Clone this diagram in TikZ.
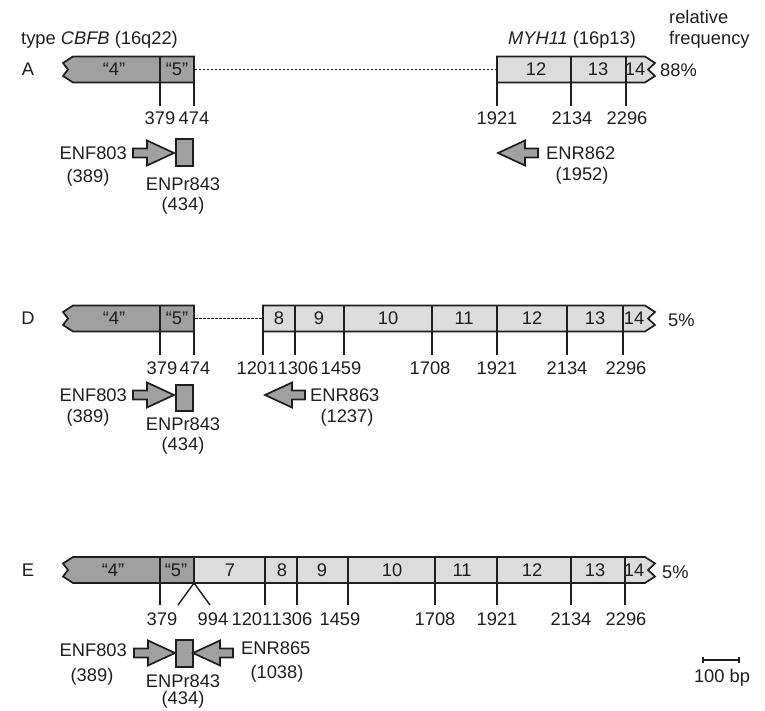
\documentclass[tikz,border=0pt]{standalone}
\usepackage{fontspec}
\setmainfont{Liberation Sans}
\definecolor{darkg}{RGB}{160,160,160}
\definecolor{lightg}{RGB}{220,220,220}
\definecolor{ink}{RGB}{30,30,30}
\tikzset{
  lbl/.style={font=\fontsize{18.3}{21}\selectfont, text=ink, inner sep=0pt},
  genebox/.style={draw=ink, line width=1.7pt, line join=miter},
  tick/.style={draw=ink, line width=1.4pt},
  gap/.style={draw=ink, line width=1.2pt, dash pattern=on 2.5pt off 1.5pt},
  primer/.style={draw=ink, fill=darkg, line width=1.7pt, line join=miter},
  fwdprimer/.pic={\draw[primer] (0,-4.5) -- (14,-4.5) -- (14,-12.5) -- (41,0) -- (14,12.5) -- (14,4.5) -- (0,4.5) -- cycle;},
  revprimer/.pic={\draw[primer] (0,-4.5) -- (-13,-4.5) -- (-13,-12.5) -- (-40,0) -- (-13,12.5) -- (-13,4.5) -- (0,4.5) -- cycle;},
  leftend/.pic={\draw[genebox, fill=darkg] (73,-13) -- (194,-13) -- (194,13) -- (73,13) -- (63,6.5) -- (68,0) -- (63,-6.5) -- cycle;
                \draw[genebox] (160,-13) -- (160,13);},
}
\begin{document}
\begin{tikzpicture}[x=1pt,y=-1pt]
\useasboundingbox (0,0) rectangle (765,711);

% headers
\node[lbl, anchor=west] (hcbfb) at (21,40) {type \textit{CBFB} (16q22)};
\node[lbl] (hmyh) at (572,40) {\textit{MYH11} (16p13)};
\node[lbl, anchor=west] (hrel) at (669,17) {relative};
\node[lbl, anchor=west] (hfreq) at (669,40) {frequency};

% ================= Row A =================
\begin{scope}[shift={(0,69.5)}]
  \node[lbl] (rA) at (28,0) {A};
  \pic {leftend};
  \node[lbl] (aex4) at (114,0) {“4”};
  \node[lbl] (aex5) at (177,0) {“5”};
  \draw[genebox, fill=lightg] (497,-13) -- (645,-13) -- (655,-6.5) -- (648,0) -- (655,6.5) -- (645,13) -- (497,13) -- cycle;
  \foreach \x in {571,626} \draw[genebox] (\x,-13) -- (\x,13);
  \draw[gap, line width=1.8pt, dash pattern=on 2pt off 2pt] (195,0) -- (497,0);
  \node[lbl] (aex12) at (536,0) {12};
  \node[lbl] (aex13) at (598,0) {13};
  \node[lbl] (aex14) at (635,0) {14};
  \node[lbl, anchor=west] (afreq) at (660,1) {88\%};
  \foreach \x in {160,194,497,571,626} \draw[tick] (\x,13) -- (\x,36.5);
  \node[lbl] (a379) at (160,49) {379};
  \node[lbl] (a474) at (194,49) {474};
  \node[lbl] (a1921) at (497,49) {1921};
  \node[lbl] (a2134) at (572,49) {2134};
  \node[lbl] (a2296) at (627,49) {2296};
\end{scope}
\pic at (133,153) {fwdprimer};
\draw[primer] (176,139) rectangle (193,166);
\node[lbl, anchor=east] (aF) at (127,153) {ENF803};
\node[lbl] (aFp) at (88,178) {(389)};
\node[lbl] (aP) at (183,184) {ENPr843};
\node[lbl] (aPp) at (183,206) {(434)};
\pic at (538,153) {revprimer};
\node[lbl, anchor=west] (aR) at (546,153) {ENR862};
\node[lbl] (aRp) at (582,176) {(1952)};

% ================= Row D =================
\begin{scope}[shift={(0,318.5)}]
  \node[lbl] (rD) at (28,0) {D};
  \pic {leftend};
  \node[lbl] (dex4) at (114,0) {“4”};
  \node[lbl] (dex5) at (177,0) {“5”};
  \draw[gap, line width=1pt] (195,0) -- (263,0);
  \draw[genebox, fill=lightg] (263,-13) -- (645,-13) -- (655,-6.5) -- (648,0) -- (655,6.5) -- (645,13) -- (263,13) -- cycle;
  \foreach \x in {295,344,432,497,567,623} \draw[genebox] (\x,-13) -- (\x,13);
  \node[lbl] (dex8) at (279,0) {8};
  \node[lbl] (dex9) at (319,0) {9};
  \node[lbl] (dex10) at (388,0) {10};
  \node[lbl] (dex11) at (464,0) {11};
  \node[lbl] (dex12) at (532,0) {12};
  \node[lbl] (dex13) at (595,0) {13};
  \node[lbl] (dex14) at (634,0) {14};
  \node[lbl, anchor=west] (dfreq) at (668,2) {5\%};
  \foreach \x in {160,194,263,295,344,432,497,567,623} \draw[tick] (\x,13) -- (\x,36);
  \node[lbl] (d379) at (162,49.5) {379};
  \node[lbl] (d474) at (195,49.5) {474};
  \node[lbl] (d1201) at (257,49.5) {1201};
  \node[lbl] (d1306) at (298,49.5) {1306};
  \node[lbl] (d1459) at (341,49.5) {1459};
  \node[lbl] (d1708) at (430,49.5) {1708};
  \node[lbl] (d1921) at (497,49.5) {1921};
  \node[lbl] (d2134) at (567,49.5) {2134};
  \node[lbl] (d2296) at (626,49.5) {2296};
\end{scope}
\pic at (133,395) {fwdprimer};
\draw[primer] (176,385) rectangle (193,411);
\node[lbl, anchor=east] (dF) at (127,395) {ENF803};
\node[lbl] (dFp) at (88,418) {(389)};
\node[lbl] (dP) at (183,424) {ENPr843};
\node[lbl] (dPp) at (183,446) {(434)};
\pic at (305,395) {revprimer};
\node[lbl, anchor=west] (dR) at (310,395) {ENR863};
\node[lbl] (dRp) at (347,418) {(1237)};

% ================= Row E =================
\begin{scope}[shift={(0,570)}]
  \node[lbl] (rE) at (28,0) {E};
  \draw[genebox, fill=lightg] (194,-13) -- (645,-13) -- (655,-6.5) -- (648,0) -- (655,6.5) -- (645,13) -- (194,13) -- cycle;
  \pic {leftend};
  \foreach \x in {265,297,348,435,497,571,625} \draw[genebox] (\x,-13) -- (\x,13);
  \node[lbl] (eex4) at (113,0) {“4”};
  \node[lbl] (eex5) at (176,0) {“5”};
  \node[lbl] (eex7) at (230,0) {7};
  \node[lbl] (eex8) at (282,0) {8};
  \node[lbl] (eex9) at (322,0) {9};
  \node[lbl] (eex10) at (392,0) {10};
  \node[lbl] (eex11) at (462,0) {11};
  \node[lbl] (eex12) at (532,0) {12};
  \node[lbl] (eex13) at (595,0) {13};
  \node[lbl] (eex14) at (634,0) {14};
  \node[lbl, anchor=west] (efreq) at (662,2) {5\%};
  \foreach \x in {160,265,297,348,435,497,571,625} \draw[tick] (\x,13) -- (\x,35);
  \coordinate (ejoin) at (194,13);
  \draw[tick] (178,35) -- (ejoin) -- (210,35);
  \node[lbl] (e379) at (162,49) {379};
  \node[lbl] (e994) at (213,49) {994};
  \node[lbl] (e1201) at (252,49) {1201};
  \node[lbl] (e1306) at (292,49) {1306};
  \node[lbl] (e1459) at (340,49) {1459};
  \node[lbl] (e1708) at (435,49) {1708};
  \node[lbl] (e1921) at (497,49) {1921};
  \node[lbl] (e2134) at (571,49) {2134};
  \node[lbl] (e2296) at (626,49) {2296};
\end{scope}
\pic at (134,653) {fwdprimer};
\draw[primer] (176,640) rectangle (193,667);
\pic at (233,653) {revprimer};
\node[lbl, anchor=east] (eF) at (127,650) {ENF803};
\node[lbl] (eFp) at (92,677) {(389)};
\node[lbl] (eP) at (183,681) {ENPr843};
\node[lbl] (ePp) at (183,700) {(434)};
\node[lbl, anchor=west] (eR) at (241,648) {ENR865};
\node[lbl] (eRp) at (277,674) {(1038)};

% scale bar
\coordinate (sb1) at (703,660);
\coordinate (sb2) at (739,660);
\draw[tick] (sb1) -- (sb2);
\draw[tick] ([yshift=3pt]sb1) -- ([yshift=-3pt]sb1);
\draw[tick] ([yshift=3pt]sb2) -- ([yshift=-3pt]sb2);
\node[lbl] (sbl) at (722,678) {100 bp};
\end{tikzpicture}
\end{document}
